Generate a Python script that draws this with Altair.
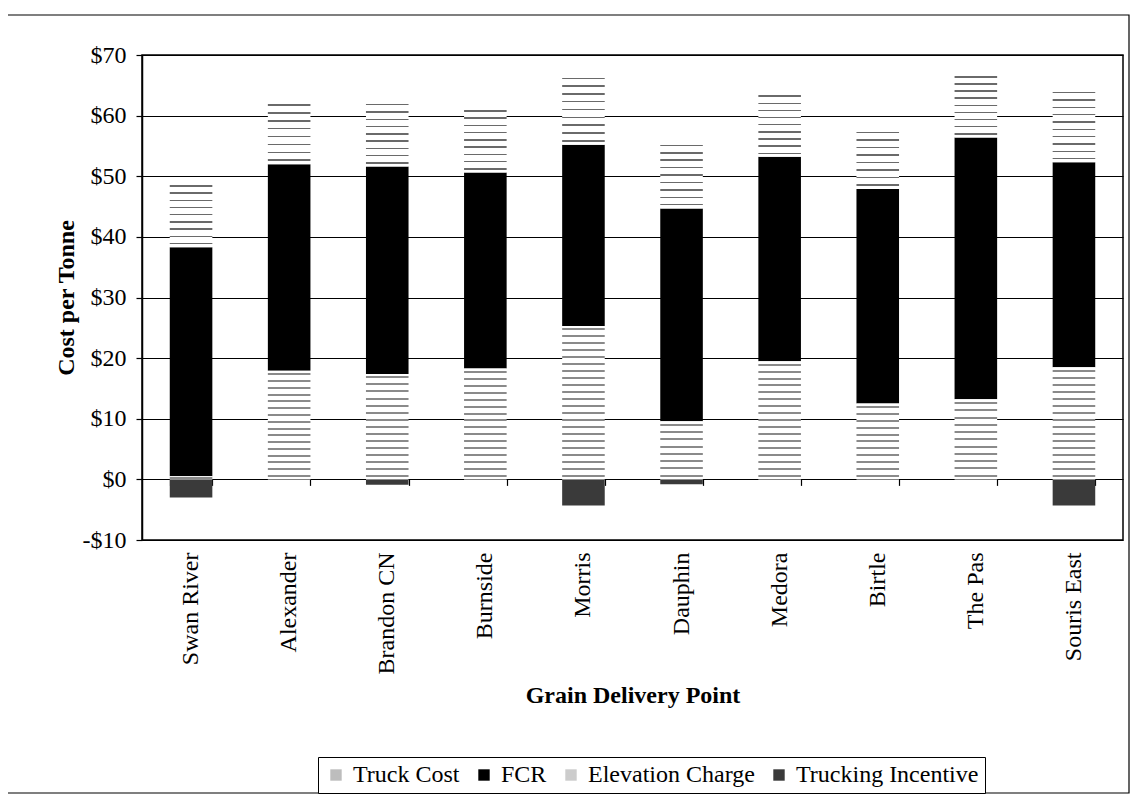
import altair as alt
import pandas as pd

points = ["Swan River", "Alexander", "Brandon CN", "Burnside", "Morris",
          "Dauphin", "Medora", "Birtle", "The Pas", "Souris East"]
series_names = ["Truck Cost", "FCR", "Elevation Charge", "Trucking Incentive"]
truck = [0.5, 17.9, 17.4, 18.3, 25.3, 9.6, 19.5, 12.5, 13.2, 18.5]
fcr = [37.8, 34.1, 34.2, 32.3, 29.9, 35.1, 33.7, 35.4, 43.2, 33.8]
elev = [10.7, 10.4, 10.8, 10.8, 11.6, 11.0, 10.6, 9.9, 10.6, 12.1]
incentive = [-3.0, 0.0, -0.9, 0.0, -4.3, -0.8, 0.0, 0.0, 0.0, -4.3]
y_ticks = [-10, 0, 10, 20, 30, 40, 50, 60, 70]

W, H = 981, 485
PX_PER_UNIT = H / 80.0
FONT = "Liberation Serif"

rows = []
for i, p in enumerate(points):
    t, f, e, inc = truck[i], fcr[i], elev[i], incentive[i]
    rows.append(dict(point=p, series="Truck Cost", value=t, lo=0, hi=t))
    rows.append(dict(point=p, series="FCR", value=f, lo=t, hi=t + f))
    rows.append(dict(point=p, series="Elevation Charge", value=e, lo=t + f, hi=t + f + e))
    if inc != 0:
        rows.append(dict(point=p, series="Trucking Incentive", value=inc, lo=inc, hi=0))
df = pd.DataFrame(rows)


def stripes(value, spacing, band_px, dark):
    h = abs(value) * PX_PER_UNIT
    n = max(1, round(h / spacing))
    bf = min(0.45 / n, band_px / max(h, 1))
    stops = [alt.GradientStop(color="white", offset=0)]
    for k in range(n):
        c = (k + 0.5) / n
        a, b = c - bf / 2, c + bf / 2
        stops += [alt.GradientStop(color="white", offset=a),
                  alt.GradientStop(color=dark, offset=a),
                  alt.GradientStop(color=dark, offset=b),
                  alt.GradientStop(color="white", offset=b)]
    stops.append(alt.GradientStop(color="white", offset=1))
    return alt.Gradient(gradient="linear", stops=stops, x1=0, x2=0, y1=0, y2=1)


xscale = alt.Scale(domain=points, paddingInner=0.566, paddingOuter=0.283)
yscale = alt.Scale(domain=[-10, 70], nice=False, zero=False)

x_label_axis = alt.Axis(
    orient="bottom", labelAngle=-90, labelFont=FONT, labelFontSize=24,
    labelColor="black", labelPadding=12, ticks=False, domain=False,
    title="Grain Delivery Point", titleFont=FONT, titleFontSize=24,
    titleFontWeight="bold", titleColor="black", titlePadding=10,
)
x_tick_axis = alt.Axis(
    orient="bottom", offset=-H * 10 / 80, labels=False, domain=False,
    ticks=True, tickBand="extent", tickSize=6, tickColor="black",
    tickWidth=1.2, title=None, grid=False,
)
y_axis = alt.Axis(
    values=y_ticks,
    labelExpr="datum.value < 0 ? '-$' + abs(datum.value) : '$' + datum.value",
    labelFont=FONT, labelFontSize=24, labelColor="black", labelPadding=10,
    tickSize=6, tickColor="black", tickWidth=1.2,
    grid=True, gridColor="black", gridWidth=1.2, gridOpacity=1,
    domain=True, domainColor="black", domainWidth=1.5,
    title="Cost per Tonne", titleFont=FONT, titleFontSize=24,
    titleFontWeight="bold", titleColor="black", titlePadding=4,
)

Y = alt.Y("lo:Q", scale=yscale, axis=y_axis, title="Cost per Tonne")

base = alt.Chart(df)

solid = base.transform_filter(
    alt.FieldOneOfPredicate(field="series", oneOf=["FCR", "Trucking Incentive"])
).mark_bar(strokeWidth=0).encode(
    x=alt.X("point:N", scale=xscale, axis=x_label_axis, sort=points),
    y=Y,
    y2="hi:Q",
    color=alt.Color(
        "series:N",
        scale=alt.Scale(domain=series_names,
                        range=["#bdbdbd", "#000000", "#cccccc", "#3a3a3a"]),
        legend=alt.Legend(
            title=None, orient="none", legendX=176, legendY=702,
            direction="horizontal", columns=4, columnPadding=12,
            labelFont=FONT, labelFontSize=24, labelColor="black", labelLimit=0,
            symbolType="square", symbolSize=130, symbolStrokeWidth=0,
            symbolOffset=0, labelOffset=5,
            strokeColor="black", padding=6, fillColor="white",
        ),
    ),
)

ticks_layer = base.transform_filter(alt.datum.series == "FCR").mark_bar(
    opacity=0
).encode(
    x=alt.X("point:N", scale=xscale, axis=x_tick_axis, sort=points),
    y=Y,
    y2="hi:Q",
)

layers = [solid]
for i, p in enumerate(points):
    for sname, vals, spacing, band, dark in [
        ("Truck Cost", truck, 7.0, 2.0, "#8a8a8a"),
        ("Elevation Charge", elev, 7.5, 1.5, "#6a6a6a"),
    ]:
        if vals[i] <= 0:
            continue
        layers.append(
            base.transform_filter(
                (alt.datum.point == p) & (alt.datum.series == sname)
            ).mark_bar(fill=stripes(vals[i], spacing, band, dark), strokeWidth=0).encode(
                x=alt.X("point:N", scale=xscale, axis=None, sort=points),
                y=Y,
                y2="hi:Q",
            )
        )
layers.append(ticks_layer)

frame = alt.Chart(df).mark_rect(
    fill=None, stroke="black", strokeWidth=1.2, clip=False
).encode(
    x=alt.value(-137), x2=alt.value(987), y=alt.value(-40), y2=alt.value(738)
).transform_filter(alt.datum.series == "FCR").transform_aggregate(n="count()")
layers.append(frame)

chart = alt.layer(*layers).resolve_axis(x="independent").properties(
    width=W, height=H,
    autosize=alt.AutoSizeParams(type="none"),
    padding={"left": 134, "top": 47, "right": 7, "bottom": 254},
    background="white",
).configure_view(stroke="black", strokeWidth=1.5)

chart.save("out.html", embed_options={"renderer": "svg", "actions": False})
